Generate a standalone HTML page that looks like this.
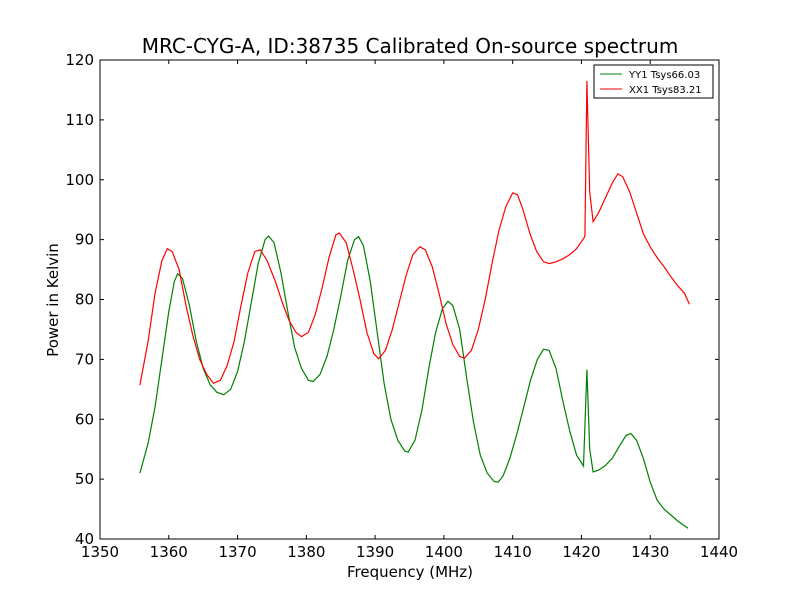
<!DOCTYPE html>
<html><head><meta charset="utf-8"><style>
html,body{margin:0;padding:0;background:#fff;}
svg text{font-family:"DejaVu Sans","Liberation Sans",sans-serif;}
</style></head><body>
<svg id="chart" width="800" height="600" xmlns="http://www.w3.org/2000/svg">
<rect width="800" height="600" fill="#fff"/>
<text x="410" y="53" font-size="20" text-anchor="middle">MRC-CYG-A, ID:38735 Calibrated On-source spectrum</text>
<g id="plot"></g>
<text x="410" y="577" font-size="15" text-anchor="middle">Frequency (MHz)</text>
<text x="58" y="300" font-size="15" text-anchor="middle" transform="rotate(-90 58 300)">Power in Kelvin</text>
<g>
<rect x="594" y="65" width="119" height="33" fill="#fff" stroke="#000" stroke-width="1"/>
<line x1="600" y1="74" x2="622" y2="74" stroke="green" stroke-width="1"/>
<text x="629" y="78" font-size="10">YY1 Tsys66.03</text>
<line x1="600" y1="89" x2="622" y2="89" stroke="red" stroke-width="1"/>
<text x="629" y="93" font-size="10">XX1 Tsys83.21</text>
</g>
</svg>
<script>
const xTicks=[1350,1360,1370,1380,1390,1400,1410,1420,1430,1440];
const yTicks=[40,50,60,70,80,90,100,110,120];
const xxFreq=[1355.8,1357,1358,1359,1359.8,1360.5,1361.5,1362.5,1363.5,1364.5,1365.5,1366.5,1367.5,1368.5,1369.5,1370.5,1371.5,1372.5,1373.3,1374.3,1375.5,1376.5,1377.5,1378.5,1379.3,1380.3,1381.3,1382.3,1383.3,1384.3,1384.8,1385.8,1386.8,1387.8,1388.8,1389.8,1390.5,1391.5,1392.5,1393.5,1394.5,1395.5,1396.5,1397.3,1398.3,1399.3,1400.3,1401.3,1402.3,1403,1404,1405,1406,1407,1408,1409,1410,1410.7,1411.5,1412.5,1413.5,1414.5,1415.3,1416.3,1417.3,1418.3,1419.3,1420.5,1420.8,1421.2,1421.7,1422.5,1423.5,1424.5,1425.3,1426,1427,1428,1429,1430,1431,1432,1433,1434,1435,1435.7];
const xxPower=[65.7,73,81,86.5,88.5,88,85,79,74,70,67.5,66,66.5,69,73,79,84.5,88,88.3,86.5,83,79.5,76.5,74.5,73.8,74.5,77.5,82,87,90.8,91.1,89.5,85,80,74.5,71,70.1,71.5,75,79.5,84,87.5,88.8,88.3,85.5,81,76,72.5,70.5,70.2,71.5,75,80,86,91.5,95.5,97.8,97.5,95,91,88,86.3,86,86.3,86.8,87.5,88.5,90.5,116.5,98,93,94.5,97,99.5,101,100.5,98,94.5,91,88.8,87,85.5,83.8,82.3,81,79.2];
const yyFreq=[1355.8,1357,1358,1359,1360,1360.8,1361.3,1362,1363,1364,1365,1366,1367,1368,1369,1370,1371,1372,1373,1374,1374.5,1375.3,1376.3,1377.3,1378.3,1379.3,1380.3,1381,1382,1383,1384,1385,1386,1387,1387.6,1388.3,1389.3,1390.3,1391.3,1392.3,1393.3,1394.3,1394.8,1395.8,1396.8,1397.8,1398.8,1399.8,1400.6,1401.3,1402.3,1403.3,1404.3,1405.3,1406.3,1407.3,1407.9,1408.6,1409.6,1410.6,1411.6,1412.6,1413.6,1414.5,1415.3,1416.3,1417.3,1418.3,1419.3,1420.3,1420.8,1421.2,1421.7,1422.5,1423.5,1424.5,1425.5,1426.5,1427.2,1428,1429,1430,1431,1432,1433,1434,1435.5];
const yyPower=[51,56,62,70,78,83,84.3,83.5,79,73,68.5,65.8,64.5,64.1,65,68,73,79.5,86,90,90.6,89.5,84.5,78,72,68.5,66.5,66.3,67.5,70.5,75,80.5,86.5,90,90.5,89,83,74.5,66,60,56.5,54.7,54.5,56.5,61.5,68.5,74.5,78.5,79.7,79,75,67,59.5,54,51,49.6,49.5,50.5,53.5,57.5,62,66.5,70,71.7,71.5,68.5,63,58,54,52.2,68.3,55,51.2,51.5,52.3,53.5,55.5,57.3,57.6,56.5,53.5,49.5,46.5,45,44,43,41.8];
const L=100,R=719,T=60,B=539;
const xs=v=>L+(v-1350)/(1440-1350)*(R-L);
const ys=v=>B-(v-40)/(120-40)*(B-T);
const NS='http://www.w3.org/2000/svg';
const g=document.getElementById('plot');
function mk(t,a){const e=document.createElementNS(NS,t);for(const k in a)e.setAttribute(k,a[k]);g.appendChild(e);return e;}
function series(fx,fy,color,name){
  const p=mk('polyline',{points:fx.map((f,i)=>xs(f).toFixed(1)+','+ys(fy[i]).toFixed(1)).join(' '),fill:'none',stroke:color,'stroke-width':1.2});
  
  
}
series(yyFreq,yyPower,'green','yy1-line');
series(xxFreq,xxPower,'red','xx1-line');
const fr=mk('rect',{x:L,y:T,width:R-L,height:B-T,fill:'none',stroke:'#000','stroke-width':1});


xTicks.forEach(v=>{const x=xs(v);
  mk('line',{x1:x,y1:B,x2:x,y2:B-4,stroke:'#000'});mk('line',{x1:x,y1:T,x2:x,y2:T+4,stroke:'#000'});
  const t=mk('text',{x:x,y:B+18,'font-size':15,'text-anchor':'middle'});t.textContent=v;
  
  
});
yTicks.forEach(v=>{const y=ys(v);
  mk('line',{x1:L,y1:y,x2:L+4,y2:y,stroke:'#000'});mk('line',{x1:R,y1:y,x2:R-4,y2:y,stroke:'#000'});
  const t=mk('text',{x:L-6,y:y+5,'font-size':15,'text-anchor':'end'});t.textContent=v;
  
  
});
</script>
</body></html>
